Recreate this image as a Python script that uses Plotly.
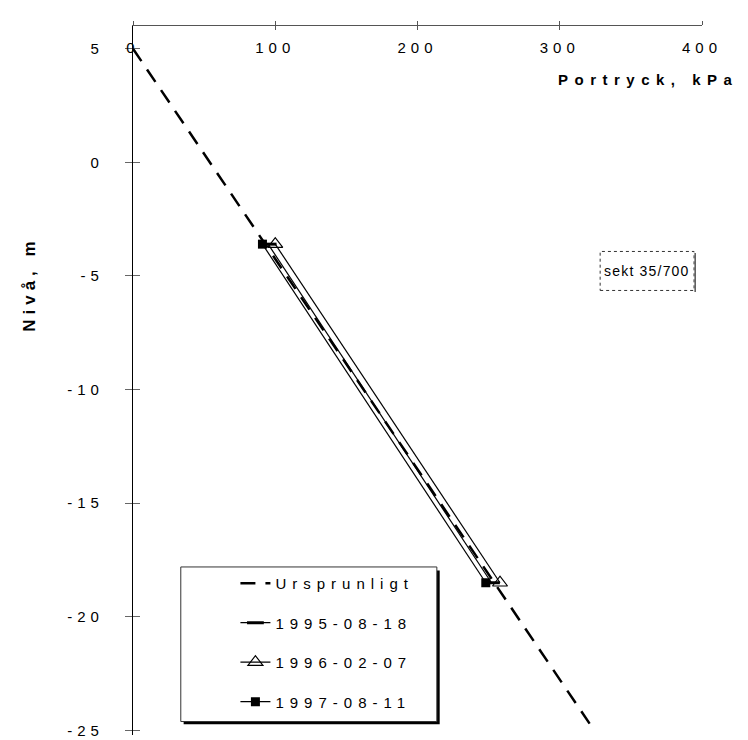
import plotly.graph_objects as go

# ---- data ----
orig_p = [0, 321]
orig_z = [5, -24.7]

series_names = ["1995-08-18", "1996-02-07", "1997-08-11"]
series_p = [[95, 252], [100, 258], [91, 248]]
series_z = [[-3.6, -18.5], [-3.6, -18.5], [-3.6, -18.5]]

x_ticks = [0, 100, 200, 300, 400]
y_ticks = [5, 0, -5, -10, -15, -20, -25]

X_RANGE = [0, 400]
Y_RANGE = [-25.2, 6.0]

FONT = "Liberation Sans, Arial, sans-serif"


def spaced(s, ls=5):
    return f'<span style="letter-spacing:{ls}px">{s}</span>'


fig = go.Figure()

fig.add_trace(go.Scatter(
    x=orig_p, y=orig_z, mode="lines", name=spaced("Ursprunligt", 6),
    line=dict(color="black", width=2.5, dash="15px,10px"),
    legendgroup="a"))

styles = [
    dict(mode="lines+markers", marker=dict(symbol="line-ew-open", size=12,
         line=dict(width=3, color="black"), color="black")),
    dict(mode="lines+markers", marker=dict(symbol="triangle-up-open", size=13,
         line=dict(width=1.2, color="black"), color="black")),
    dict(mode="lines+markers", marker=dict(symbol="square", size=9,
         color="black", line=dict(width=0))),
]
for i, (nm, px, pz) in enumerate(zip(series_names, series_p, series_z)):
    fig.add_trace(go.Scatter(
        x=px, y=pz, name=spaced(nm, 6), line=dict(color="black", width=1.2),
        legendgroup=nm, **styles[i]))

fig.update_layout(
    width=748, height=740,
    margin=dict(l=125, r=54, t=18, b=9),
    paper_bgcolor="white", plot_bgcolor="white",
    font=dict(family=FONT, size=14, color="black"),
    showlegend=True,
    xaxis=dict(range=X_RANGE, side="top", showline=True, linecolor="#555",
               linewidth=1, ticks="outside", ticklen=4, tickcolor="#555",
               tickvals=x_ticks, showticklabels=False, showgrid=False,
               zeroline=False),
    xaxis2=dict(range=X_RANGE, overlaying="x", side="top", anchor="y",
                ticks="inside", ticklen=4, tickcolor="#555", tickvals=x_ticks,
                showticklabels=False, showline=False, showgrid=False,
                zeroline=False),
    xaxis3=dict(range=X_RANGE, overlaying="x", side="top", anchor="free",
                position=0.958, ticks="", tickvals=x_ticks,
                ticktext=[spaced(str(v), 5) for v in x_ticks], showline=False,
                showgrid=False, zeroline=False,
                tickfont=dict(size=15, family=FONT)),
    yaxis=dict(range=Y_RANGE, showline=True, linecolor="black", linewidth=1.3,
               ticks="outside", ticklen=7, tickcolor="#666", tickvals=y_ticks,
               ticktext=[spaced(str(v), 5) for v in y_ticks],
               ticklabelstandoff=18,
               showgrid=False, zeroline=False,
               tickfont=dict(size=15, family=FONT)),
    yaxis2=dict(range=Y_RANGE, overlaying="y", side="left", anchor="x",
                ticks="inside", ticklen=7, tickcolor="#666", tickvals=y_ticks,
                showticklabels=False, showline=False, showgrid=False,
                zeroline=False),
    legend=dict(x=0.18, y=0.237, xanchor="left", yanchor="top",
                bgcolor="rgba(0,0,0,0)", borderwidth=0,
                traceorder="grouped", tracegroupgap=17,
                font=dict(size=15, family=FONT)),
)

fig.add_trace(go.Scatter(x=[None], y=[None], xaxis="x2", yaxis="y2",
                         showlegend=False, hoverinfo="skip"))
fig.add_trace(go.Scatter(x=[None], y=[None], xaxis="x3", yaxis="y",
                         showlegend=False, hoverinfo="skip"))

# legend frame with shadow
fig.add_shape(type="rect", xref="paper", yref="paper",
              x0=0.089, x1=0.539, y0=0.015, y1=0.232,
              fillcolor="black", line=dict(width=0), layer="above")
fig.add_shape(type="rect", xref="paper", yref="paper",
              x0=0.084, x1=0.534, y0=0.019, y1=0.237,
              fillcolor="white", line=dict(color="#333", width=1),
              layer="above")

# section label box
fig.add_shape(type="rect", xref="paper", yref="paper",
              x0=0.821, x1=0.986, y0=0.627, y1=0.682,
              line=dict(color="#333", width=1, dash="dot"))
fig.add_shape(type="line", xref="paper", yref="paper",
              x0=0.988, x1=0.988, y0=0.625, y1=0.680,
              line=dict(color="#555", width=1.5))
fig.add_annotation(x=0.9035, y=0.6545, xref="paper", yref="paper",
                   xanchor="center", yanchor="middle",
                   text=spaced("sekt 35/700", 1.2), showarrow=False,
                   font=dict(size=14, family=FONT))

# axis titles
fig.add_annotation(x=0.743, y=0.925, xref="paper", yref="paper",
                   xanchor="left", yanchor="middle",
                   text="<b>" + spaced("Portryck, kPa", 6.5) + "</b>",
                   showarrow=False, font=dict(size=15, family=FONT))
fig.add_annotation(x=-0.181, y=0.635, xref="paper", yref="paper",
                   xanchor="center", yanchor="middle",
                   text="<b>" + spaced("Nivå, m", 5) + "</b>",
                   textangle=-90, showarrow=False,
                   font=dict(size=17, family=FONT))

fig.write_html("out.html")
